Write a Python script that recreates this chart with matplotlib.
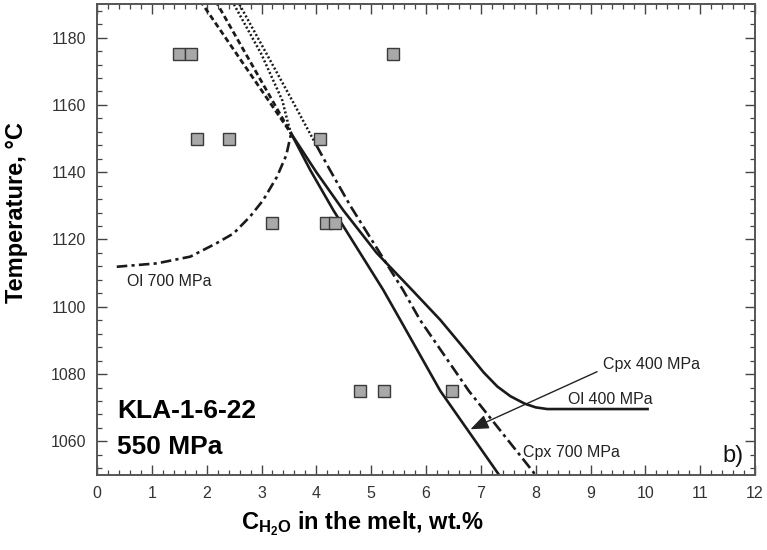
import matplotlib
matplotlib.use("Agg")
import matplotlib.pyplot as plt
from matplotlib.ticker import MultipleLocator

plt.rcParams['font.family'] = ['Liberation Sans', 'DejaVu Sans']
plt.rcParams['mathtext.fontset'] = 'custom'
plt.rcParams['mathtext.rm'] = 'Liberation Sans'
plt.rcParams['mathtext.bf'] = 'Liberation Sans:bold'

# Experimental points
sample_x = [1.50, 1.72, 5.40, 1.82, 2.41, 4.07, 3.19, 4.18, 4.34, 4.80, 5.24, 6.48]
sample_T = [1175, 1175, 1175, 1150, 1150, 1150, 1125, 1125, 1125, 1075, 1075, 1075]

# Cpx 400 MPa (solid) and its upper extension (dashed)
cpx400_x = [3.54, 3.89, 4.31, 5.22, 5.53, 6.26, 7.35, 7.40]
cpx400_T = [1151.5, 1140.6, 1128.7, 1105.0, 1096.1, 1075.0, 1049.6, 1048.0]
cpx400_ext_x = [2.16, 3.54]
cpx400_ext_T = [1191.0, 1151.5]

# Ol 400 MPa (solid) and its upper extension (dashed)
ol400_x = [3.54, 4.00, 4.49, 5.10, 5.71, 6.26, 6.70, 7.05, 7.30, 7.54, 7.80, 8.00, 8.21, 10.04]
ol400_T = [1151.5, 1140.0, 1128.7, 1116.0, 1105.6, 1096.1, 1087.5, 1080.5, 1076.3, 1073.4, 1071.2, 1070.1, 1069.6, 1069.6]
ol400_ext_x = [1.88, 3.54]
ol400_ext_T = [1191.0, 1151.5]

# Ol 700 MPa (dash-dot) and its upper extension (dotted)
ol700_x = [0.36, 1.09, 1.70, 2.18, 2.49, 2.79, 3.03, 3.28, 3.45, 3.54]
ol700_T = [1111.9, 1112.9, 1114.9, 1118.9, 1121.8, 1126.8, 1131.7, 1138.6, 1145.0, 1151.5]
ol700_ext_x = [2.46, 3.00, 3.38, 3.47, 3.54]
ol700_ext_T = [1191.0, 1175.0, 1161.3, 1155.4, 1151.5]

# Cpx 700 MPa (dash-dot) and its upper extension (dotted)
cpx700_x = [4.00, 4.25, 4.62, 5.58, 5.89, 6.78, 7.96, 8.02]
cpx700_T = [1148.0, 1140.6, 1130.0, 1105.0, 1096.1, 1075.0, 1050.8, 1049.0]
cpx700_ext_x = [2.56, 3.56, 4.00]
cpx700_ext_T = [1191.0, 1161.3, 1148.0]

x_ticks = list(range(0, 13))
y_ticks = [1060, 1080, 1100, 1120, 1140, 1160, 1180]

fig = plt.figure(figsize=(7.67, 5.5), dpi=100)
ax = fig.add_axes([0.1265, 0.1364, 0.8579, 0.8563])

lc = '#1a1a1a'
ax.plot(cpx400_x, cpx400_T, color=lc, lw=1.9)
ax.plot(cpx400_ext_x, cpx400_ext_T, color=lc, lw=2.0, dashes=(2.0, 1.2))
ax.plot(ol400_x, ol400_T, color=lc, lw=1.9)
ax.plot(ol400_ext_x, ol400_ext_T, color=lc, lw=2.0, dashes=(2.0, 1.2))
ax.plot(ol700_x, ol700_T, color=lc, lw=1.9, dashes=(4.0, 1.6, 1.2, 1.6))
ax.plot(ol700_ext_x, ol700_ext_T, color=lc, lw=1.8, dashes=(0.8, 0.9))
ax.plot(cpx700_x, cpx700_T, color=lc, lw=1.9, dashes=(4.5, 1.6, 1.2, 1.6))
ax.plot(cpx700_ext_x, cpx700_ext_T, color=lc, lw=1.8, dashes=(0.8, 0.9))

ax.plot(sample_x, sample_T, linestyle='none', marker='s', markersize=8.5,
        markerfacecolor='#a8a8a8', markeredgecolor='#3a3a3a', markeredgewidth=1.0, zorder=5)

# Labels
lab_fs = 11.5
ax.text(0.55, 1107.4, 'Ol 700 MPa', fontsize=lab_fs, color='#222222', va='center', ha='left')
ax.text(9.22, 1082.8, 'Cpx 400 MPa', fontsize=lab_fs, color='#222222', va='center', ha='left')
ax.text(8.58, 1072.4, 'Ol 400 MPa', fontsize=lab_fs, color='#222222', va='center', ha='left')
ax.text(7.77, 1056.7, 'Cpx 700 MPa', fontsize=lab_fs, color='#222222', va='center', ha='left')
ax.text(11.40, 1055.5, 'b)', fontsize=17, color='#111111', va='center', ha='left')
ax.text(0.36, 1068.9, 'KLA-1-6-22', fontsize=19, fontweight='bold', va='center', ha='left')
ax.text(0.36, 1058.4, '550 MPa', fontsize=19, fontweight='bold', va='center', ha='left')

ax.annotate('', xy=(6.81, 1063.6), xytext=(9.12, 1080.7),
            arrowprops=dict(arrowstyle='-|>,head_length=1.0,head_width=0.4',
                            color='#222222', lw=1.0,
                            mutation_scale=11, shrinkA=0, shrinkB=0))

ax.set_xlim(0, 12)
ax.set_ylim(1050, 1190)
ax.set_xticks(x_ticks)
ax.set_yticks(y_ticks)
ax.xaxis.set_minor_locator(MultipleLocator(0.2))
ax.yaxis.set_minor_locator(MultipleLocator(4))
ax.tick_params(which='both', direction='in', top=True, right=True, color='#444444')
ax.tick_params(which='major', length=7, width=1.0, labelsize=11.5, labelcolor='#333333', pad=8)
ax.tick_params(which='minor', length=3.5, width=0.9)
for s in ax.spines.values():
    s.set_color('#555555')
    s.set_linewidth(1.4)

ax.set_ylabel('Temperature, °C', fontsize=17, fontweight='bold')
ax.yaxis.set_label_coords(-0.105, 0.558)
ax.set_xlabel(r'$\mathbf{C_{H_2O}}$ in the melt, wt.%', fontsize=17, fontweight='bold')
ax.xaxis.set_label_coords(0.403, -0.072)

fig.savefig('out.png', dpi=100)
